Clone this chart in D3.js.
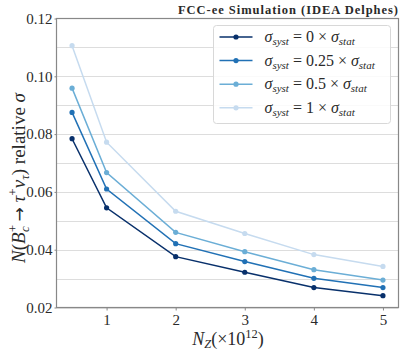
<!DOCTYPE html>
<html>
<head>
<meta charset="utf-8">
<script src="https://cdn.jsdelivr.net/npm/d3@7"></script>
<style>
  body { margin: 0; background: #fff; }
  svg { display: block; }
  text { font-family: "Liberation Serif", "DejaVu Serif", serif; fill: #2a2a2a; }
</style>
</head>
<body>
<svg id="chart" width="407" height="362"></svg>
<script>
// N_Z values (x 10^12)
const nz = [0.5, 1, 2, 3, 4, 5];

// relative sigma for each systematic scenario
const sys0    = [0.0784, 0.0545, 0.0376, 0.0322, 0.0269, 0.0241];
const sys025  = [0.0875, 0.0610, 0.0421, 0.0359, 0.0301, 0.0269];
const sys05   = [0.0959, 0.0667, 0.0460, 0.0393, 0.0331, 0.0295];
const sys1    = [0.1106, 0.0772, 0.0533, 0.0456, 0.0383, 0.0342];

const factors = ["0", "0.25", "0.5", "1"];
const colors = ["#08306b", "#2171b5", "#6baed6", "#c6dbef"];
const xTicks = [1, 2, 3, 4, 5];
const yTicks = [0.02, 0.04, 0.06, 0.08, 0.10, 0.12];
const yGrid = d3.range(0.02, 0.1201, 0.01);

const series = [sys0, sys025, sys05, sys1].map((v, i) => ({
  factor: factors[i],
  color: colors[i],
  values: v.map((y, j) => ({x: nz[j], y}))
}));

const margin = {top: 18.5, right: 8.5, bottom: 55, left: 56.5};
const width = 407, height = 362;

const svg = d3.select("#chart");

const x = d3.scaleLinear()
    .domain([0.275, 5.225])
    .range([margin.left, width - margin.right]);

const y = d3.scaleLinear()
    .domain([0.02, 0.12])
    .range([height - margin.bottom + 0.5, margin.top]);

// horizontal grid
svg.append("g")
  .selectAll("line")
  .data(yGrid)
  .join("line")
    .attr("x1", margin.left)
    .attr("x2", width - margin.right)
    .attr("y1", d => Math.round(y(d)) + 0.5)
    .attr("y2", d => Math.round(y(d)) + 0.5)
    .attr("stroke", "#dddddd")
    .attr("stroke-width", 1);

// axes
const xAxis = svg.append("g")
    .attr("transform", `translate(0,${y(0.02)})`)
    .call(d3.axisBottom(x).tickValues(xTicks).tickFormat(d3.format("d")).tickSize(3).tickPadding(4));

const yAxis = svg.append("g")
    .attr("transform", `translate(${margin.left},0)`)
    .call(d3.axisLeft(y).tickValues(yTicks).tickFormat(d3.format(".2f")).tickSize(2).tickPadding(2));

[xAxis, yAxis].forEach(g => {
  g.select(".domain").remove();
  g.selectAll(".tick line").attr("stroke", "#888");
  g.selectAll(".tick text")
      .attr("font-size", 15)
      .attr("fill", "#2a2a2a");
});

// frame
svg.append("rect")
    .attr("x", margin.left)
    .attr("y", margin.top)
    .attr("width", width - margin.right - margin.left)
    .attr("height", y(0.02) - margin.top)
    .attr("fill", "none")
    .attr("stroke", "#888")
    .attr("stroke-width", 1.2);

// lines + markers
const line = d3.line().x(d => x(d.x)).y(d => y(d.y));

const g = svg.append("g")
  .selectAll("g")
  .data(series.slice().reverse())
  .join("g");

g.append("path")
    .attr("d", d => line(d.values))
    .attr("fill", "none")
    .attr("stroke", d => d.color)
    .attr("stroke-width", 1.5);

g.selectAll("circle")
  .data(d => d.values.map(v => ({...v, color: d.color})))
  .join("circle")
    .attr("cx", d => x(d.x))
    .attr("cy", d => y(d.y))
    .attr("r", 2.6)
    .attr("fill", d => d.color);

// legend
const legend = svg.append("g").attr("transform", "translate(213.5,25.5)");
legend.append("rect")
    .attr("width", 177)
    .attr("height", 98)
    .attr("rx", 3)
    .attr("fill", "rgba(255,255,255,0.85)")
    .attr("stroke", "#d8d8d8");

const items = legend.selectAll("g.item")
  .data(series)
  .join("g")
    .attr("class", "item")
    .attr("transform", (d, i) => `translate(0,${11.5 + i * 23.6})`);

items.append("line")
    .attr("x1", 6).attr("x2", 39)
    .attr("stroke", d => d.color)
    .attr("stroke-width", 1.5);
items.append("circle")
    .attr("cx", 22.5).attr("r", 2.6)
    .attr("fill", d => d.color);

const lt = items.append("text")
    .attr("x", 51)
    .attr("y", 5)
    .attr("font-size", 16);
lt.append("tspan").attr("font-style", "italic").text("σ");
lt.append("tspan").attr("font-style", "italic").attr("font-size", 11).attr("dy", 3).text("syst");
lt.append("tspan").attr("dy", -3).text(d => ` = ${d.factor} × `);
lt.append("tspan").attr("font-style", "italic").text("σ");
lt.append("tspan").attr("font-style", "italic").attr("font-size", 11).attr("dy", 3).text("stat");

// title
svg.append("text")
    .attr("x", 398)
    .attr("y", 14)
    .attr("text-anchor", "end")
    .attr("font-weight", "bold")
    .attr("font-size", 12.5)
    .attr("textLength", 220)
    .attr("lengthAdjust", "spacing")
    .text("FCC-ee Simulation (IDEA Delphes)");

// x label
const xl = svg.append("text")
    .attr("x", 228)
    .attr("y", 345)
    .attr("text-anchor", "middle")
    .attr("font-size", 18);
xl.append("tspan").attr("font-style", "italic").text("N");
xl.append("tspan").attr("font-style", "italic").attr("font-size", 12.5).attr("dy", 3).text("Z");
xl.append("tspan").attr("dy", -3).text("(×10");
xl.append("tspan").attr("font-size", 12.5).attr("dy", -7).text("12");
xl.append("tspan").attr("dy", 7).text(")");

// y label: N(B_c^+ -> tau^+ nu_tau) relative sigma
const yl = svg.append("text")
    .attr("transform", "translate(25,178) rotate(-90)")
    .attr("text-anchor", "middle")
    .attr("font-size", 19);
yl.append("tspan").attr("font-style", "italic").text("N");
yl.append("tspan").text("(");
yl.append("tspan").attr("font-style", "italic").text("B");
yl.append("tspan").attr("font-size", 13).attr("dy", -8).text("+");
yl.append("tspan").attr("font-style", "italic").attr("font-size", 13).attr("dx", -7).attr("dy", 12).text("c");
yl.append("tspan").attr("dy", -4).text(" ");
yl.append("tspan").attr("style", "font-family: 'DejaVu Sans'").attr("font-size", 17).text("→");
yl.append("tspan").text(" ");
yl.append("tspan").attr("font-style", "italic").text("τ");
yl.append("tspan").attr("font-size", 13).attr("dy", -8).text("+");
yl.append("tspan").attr("font-style", "italic").attr("dy", 8).text("ν");
yl.append("tspan").attr("font-style", "italic").attr("font-size", 13).attr("dy", 4).text("τ");
yl.append("tspan").attr("dy", -4).text(") relative ");
yl.append("tspan").attr("font-style", "italic").text("σ");
</script>
</body>
</html>
